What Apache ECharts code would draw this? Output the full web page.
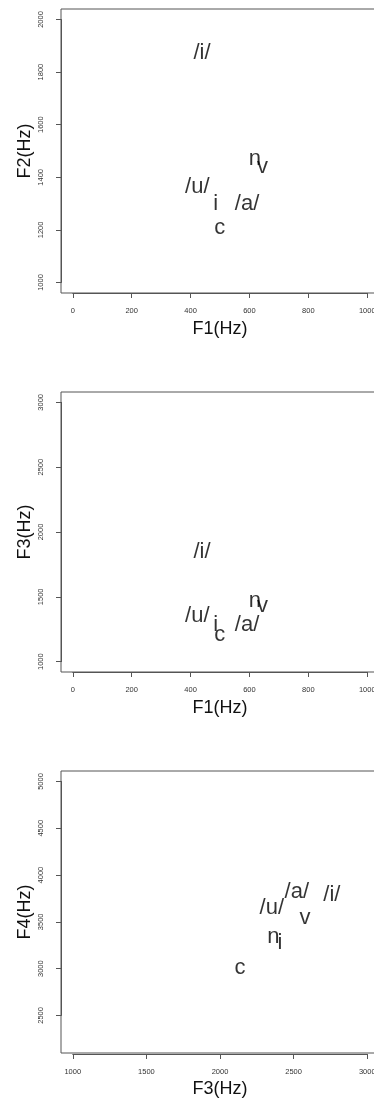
<!DOCTYPE html>
<html><head><meta charset="utf-8">
<script src="https://cdn.jsdelivr.net/npm/echarts@6/dist/echarts.min.js"></script>
<style>html,body{margin:0;padding:0;background:#fff;overflow:hidden;}#c{width:380px;height:1099px;}</style>
</head><body><div id="c"></div>
<script>
// Panel 1 & 2: F1 vs F2 / F1 vs F3
const labelsA = ['/i/', '/u/', 'i', 'c', '/a/', 'n', 'v'];
const f1Vals = [439, 423, 485, 499, 592, 618, 644];
const f2Vals = [1879, 1370, 1307, 1215, 1307, 1478, 1447];
const f3ValsA = [1864, 1367, 1302, 1225, 1302, 1484, 1445];
// Panel 3: F3 vs F4
const labelsB = ['/a/', '/i/', '/u/', 'v', 'n', 'i', 'c'];
const f3ValsB = [2522, 2760, 2352, 2578, 2363, 2408, 2136];
const f4Vals = [3844, 3809, 3666, 3559, 3364, 3292, 3026];
// tick ranges [min, max, interval]
const ticksF1 = [0, 1000, 200];
const ticksF2 = [1000, 2000, 200];
const ticksF3a = [1000, 3000, 500];
const ticksF3b = [1000, 3000, 500];
const ticksF4 = [2500, 5000, 500];

const FONT = '"Liberation Sans", Arial, Helvetica, sans-serif';
const AXC = '#555';

// outer plot boxes (R style, 4% padding)
const boxes = [
  {left: 61, top: 9, width: 318, height: 284},
  {left: 61, top: 392, width: 318, height: 280},
  {left: 61, top: 771, width: 318, height: 283}
];
const boxX = [[-40, 1040], [-40, 1040], [920, 3080]];
const boxY = [[960, 2040], [920, 3080], [2088, 5112]];
const tickX = [ticksF1, ticksF1, ticksF3b];
const tickY = [ticksF2, ticksF3a, ticksF4];
const names = [['F1(Hz)', 'F2(Hz)'], ['F1(Hz)', 'F3(Hz)'], ['F3(Hz)', 'F4(Hz)']];
const nameStyle = {fontFamily: FONT, fontSize: 18, color: '#111'};

const grids = [], xAxes = [], yAxes = [];
boxes.forEach((b, i) => {
  grids.push(Object.assign({}, b, {show: true, borderColor: AXC, borderWidth: 1, backgroundColor: 'transparent'}));
  xAxes.push({type: 'value', gridIndex: i, min: boxX[i][0], max: boxX[i][1],
    name: names[i][0], nameLocation: 'middle', nameGap: 27, nameMoveOverlap: false, nameTextStyle: nameStyle,
    axisLine: {show: false, onZero: false}, axisTick: {show: false}, axisLabel: {show: false}, splitLine: {show: false}});
  yAxes.push({type: 'value', gridIndex: i, min: boxY[i][0], max: boxY[i][1],
    name: names[i][1], nameLocation: 'middle', nameGap: 27, nameMoveOverlap: false, nameTextStyle: nameStyle,
    axisLine: {show: false, onZero: false}, axisTick: {show: false}, axisLabel: {show: false}, splitLine: {show: false}});
});
boxes.forEach((b, i) => {
  const sx = b.width / (boxX[i][1] - boxX[i][0]);
  const sy = b.height / (boxY[i][1] - boxY[i][0]);
  const l = b.left + (tickX[i][0] - boxX[i][0]) * sx;
  const w = (tickX[i][1] - tickX[i][0]) * sx;
  const t = b.top + (boxY[i][1] - tickY[i][1]) * sy;
  const h = (tickY[i][1] - tickY[i][0]) * sy;
  const offX = (b.top + b.height) - (t + h);
  const offY = l - b.left;
  grids.push({left: l, top: t, width: w, height: h, show: false});
  const gi = boxes.length + i;
  xAxes.push({
    type: 'value', gridIndex: gi, min: tickX[i][0], max: tickX[i][1], interval: tickX[i][2],
    offset: offX, position: 'bottom',
    axisLine: {show: true, onZero: false, lineStyle: {color: AXC, width: 1}}, splitLine: {show: false},
    axisTick: {show: true, inside: false, length: 5, lineStyle: {color: AXC, width: 1}},
    axisLabel: {show: true, fontFamily: FONT, fontSize: 7.5, color: '#333', margin: 14,
      formatter: v => String(v), showMinLabel: true, showMaxLabel: true, hideOverlap: false}
  });
  yAxes.push({
    type: 'value', gridIndex: gi, min: tickY[i][0], max: tickY[i][1], interval: tickY[i][2],
    offset: offY, position: 'left',
    axisLine: {show: true, onZero: false, lineStyle: {color: AXC, width: 1}}, splitLine: {show: false},
    axisTick: {show: true, inside: false, length: 5, lineStyle: {color: AXC, width: 1}},
    axisLabel: {show: true, fontFamily: FONT, fontSize: 7.5, color: '#333', margin: 16, rotate: 90,
      align: 'center', verticalAlign: 'bottom', formatter: v => String(v),
      showMinLabel: true, showMaxLabel: true, hideOverlap: false}
  });
});

function ser(idx, xs, ys, labs) {
  return {
    type: 'scatter', xAxisIndex: idx, yAxisIndex: idx,
    symbol: 'circle', symbolSize: 1, clip: false,
    itemStyle: {color: 'rgba(0,0,0,0)'},
    data: xs.map((x, i) => [x, ys[i], labs[i]]),
    label: {show: true, position: 'inside', align: 'center', verticalAlign: 'middle', offset: [0, 2],
      formatter: p => p.value[2], fontFamily: FONT, fontSize: 22, color: '#000'},
    emphasis: {disabled: true}, silent: true
  };
}

const chart = echarts.init(document.getElementById('c'), null, {renderer: 'canvas'});
chart.setOption({
  animation: false,
  backgroundColor: '#fff',
  grid: grids,
  xAxis: xAxes,
  yAxis: yAxes,
  series: [
    ser(3, f1Vals, f2Vals, labelsA),
    ser(4, f1Vals, f3ValsA, labelsA),
    ser(5, f3ValsB, f4Vals, labelsB)
  ]
});
</script></body></html>
